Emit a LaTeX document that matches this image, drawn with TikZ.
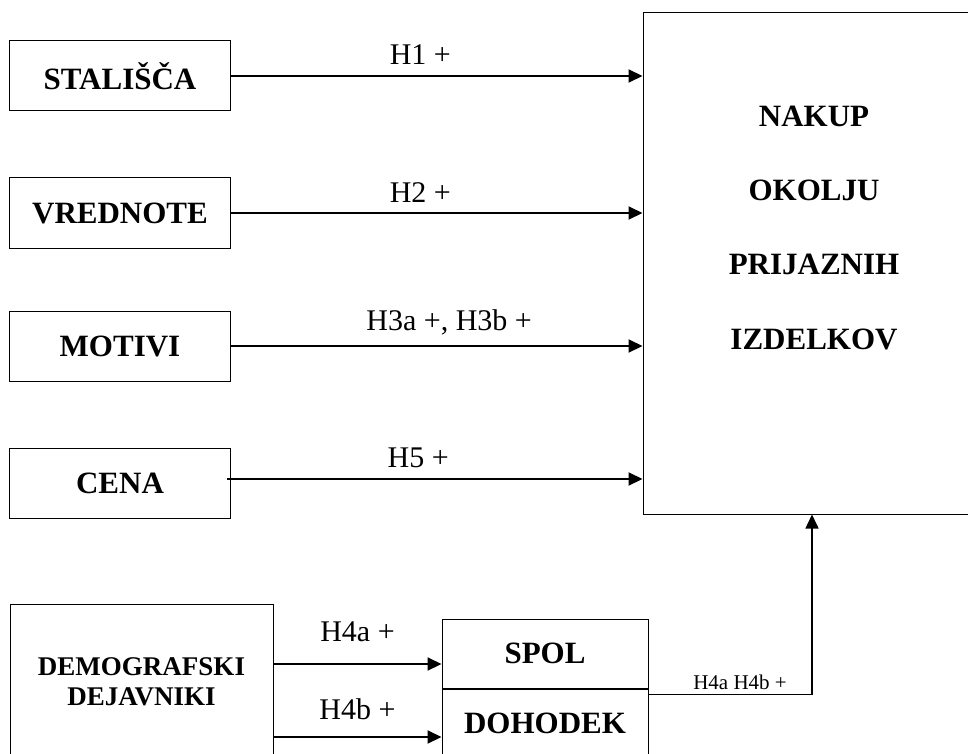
\documentclass[tikz,border=0pt]{standalone}
\usepackage{fontspec}
\setmainfont{Liberation Serif}
\usetikzlibrary{arrows.meta, positioning}
\tikzstyle{model}=[x=1pt, y=-1pt, >={Triangle[length=14pt,width=13pt]}]
\tikzstyle{factor}=[draw, line width=1pt, minimum width=221pt, minimum height=70pt, font=\fontsize{31}{37}\selectfont\bfseries]
\tikzstyle{link}=[->, line width=2pt]
\tikzstyle{hyp}=[font=\fontsize{30}{36}\selectfont, inner sep=0pt]

\begin{document}
\begin{tikzpicture}[model]
  \useasboundingbox (0,0) rectangle (968,754);
  \node[factor] (stal) at (120,76) {STALIŠČA};
  \node[factor] (vred) [below=66pt of stal] {VREDNOTE};
  \node[factor] (motiv) [below=62pt of vred] {MOTIVI};
  \node[factor] (cena) [below=66pt of motiv] {CENA};
  \node[draw, line width=1pt, minimum width=347pt, minimum height=501pt] (goal) at (816.5,263.5) {};
  \node[align=center, font=\fontsize{31}{74}\selectfont\bfseries] (goaltext) at (814,228) {NAKUP\\OKOLJU\\PRIJAZNIH\\IZDELKOV};
  \node[factor, minimum width=263pt, minimum height=156pt, align=center, font=\fontsize{27}{30}\selectfont\bfseries] (demo) at (141.5,682) {DEMOGRAFSKI\\DEJAVNIKI};
  \node[factor, minimum width=206pt, minimum height=69pt] (spol) at (545,653.5) {SPOL};
  \node[factor, minimum width=206pt, minimum height=68pt] (doh) [below=0pt of spol] {DOHODEK};
  \coordinate (c5) at ([shift={(-4pt,4pt)}]cena.east);
  \coordinate (a4) at ([yshift=-10.5pt]spol.west);
  \coordinate (b4) at ([yshift=-14pt]doh.west);
  \coordinate (out) at ([yshift=-6pt]spol.south east);
  \draw[link] (stal.east) -- (stal.east -| goal.west) node[hyp, pos=0.46, above=10pt] {H1 +};
  \draw[link] (vred.east) -- (vred.east -| goal.west) node[hyp, pos=0.46, above=10pt] {H2 +};
  \draw[link] (motiv.east) -- (motiv.east -| goal.west) node[hyp, pos=0.53, above=10pt] {H3a +, H3b +};
  \draw[link] (c5) -- (c5 -| goal.west) node[hyp, pos=0.46, above=10pt] {H5 +};
  \draw[link] (a4 -| demo.east) -- (a4) node[hyp, midway, above=21pt] {H4a +};
  \draw[link] (b4 -| demo.east) -- (b4) node[hyp, midway, above=16pt] {H4b +};
  \draw[->, line width=1.5pt] (out) -| ([xshift=-4.5pt]goal.south) node[pos=0.28, above=4pt, font=\fontsize{21}{25}\selectfont, inner sep=0pt] {H4a H4b +};
\end{tikzpicture}
\end{document}
